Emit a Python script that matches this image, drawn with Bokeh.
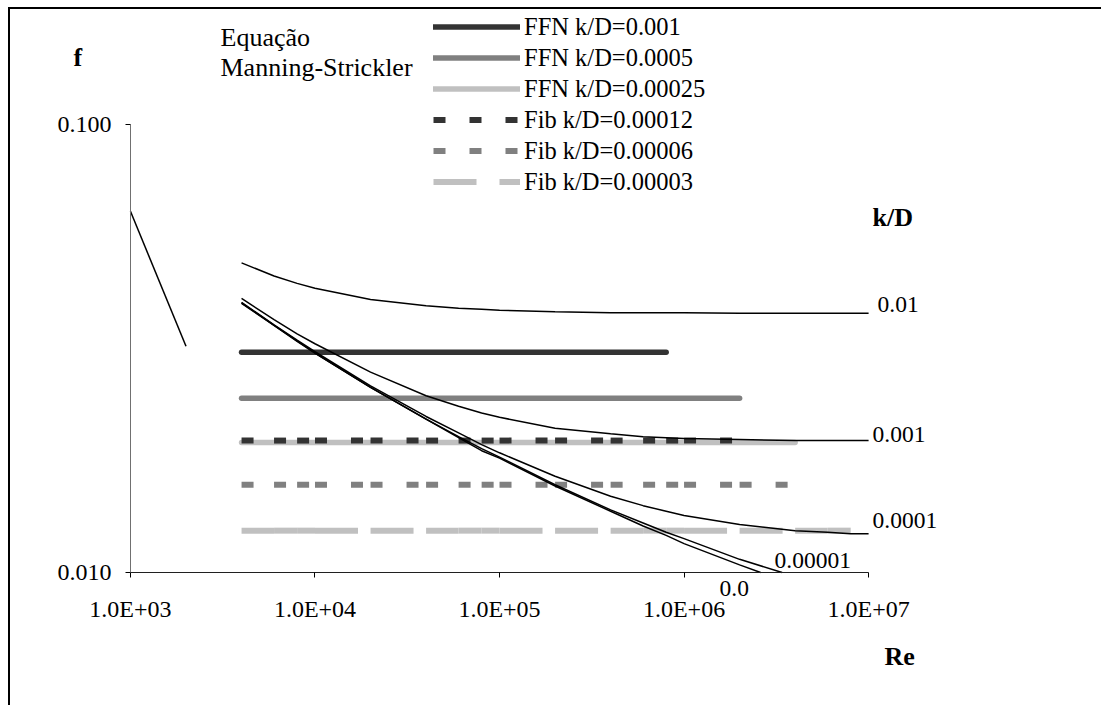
from bokeh.plotting import figure
from bokeh.models import Label, Legend, LegendItem, FixedTicker
from bokeh.embed import file_html
from bokeh.resources import INLINE

# ---------------- data ----------------
re_pts = [4e3, 6e3, 8e3, 1e4, 2e4, 4e4, 6e4, 8e4, 1e5, 2e5, 4e5, 6e5, 8e5,
          1e6, 2e6, 4e6, 6e6, 8e6, 1e7]

f_kd_0_01 = [0.0491, 0.0459, 0.0442, 0.0431, 0.0407, 0.0394, 0.0389, 0.0387, 0.0385,
             0.0382, 0.0380, 0.0380, 0.0380, 0.0380, 0.0379, 0.0379, 0.0379, 0.0379, 0.0379]
f_kd_0_001 = [0.0409, 0.0367, 0.0341, 0.0324, 0.0280, 0.0248, 0.0235, 0.0227, 0.0222,
              0.0210, 0.0204, 0.0201, 0.0200, 0.0199, 0.0198, 0.0197, 0.0197, 0.0197, 0.0197]
f_kd_0_0001 = [0.0401, 0.0357, 0.0330, 0.0311, 0.0261, 0.0223, 0.0205, 0.0193, 0.0185,
               0.0164, 0.0148, 0.0141, 0.0137, 0.0134, 0.0128, 0.0124, 0.0123, 0.0122, 0.0122]
# the two lowest curves leave the chart at f = 0.010
re_kd_0_00001 = [4e3, 6e3, 8e3, 1e4, 2e4, 4e4, 6e4, 8e4, 1e5, 2e5, 4e5, 6e5, 8e5,
                 1e6, 2e6, 3.4e6]
f_kd_0_00001 = [0.0400, 0.0356, 0.0329, 0.0309, 0.0259, 0.0220, 0.0201, 0.0189, 0.0181,
                0.0157, 0.0138, 0.0129, 0.0123, 0.0119, 0.0107, 0.0100]
re_kd_0 = [4e3, 6e3, 8e3, 1e4, 2e4, 4e4, 6e4, 8e4, 1e5, 2e5, 4e5, 6e5, 8e5,
           1e6, 2e6, 2.6e6]
f_kd_0 = [0.0399, 0.0356, 0.0328, 0.0309, 0.0259, 0.0220, 0.0200, 0.0187, 0.0180,
          0.0156, 0.0137, 0.0127, 0.0121, 0.0116, 0.0104, 0.0100]

re_laminar = [1000, 2000]
f_laminar = [0.064, 0.032]

ffn_labels = ["FFN k/D=0.001", "FFN k/D=0.0005", "FFN k/D=0.00025"]
ffn_f = [0.0310, 0.0245, 0.0195]
ffn_re_end = [8e5, 2e6, 4e6]

fib_labels = ["Fib k/D=0.00012", "Fib k/D=0.00006", "Fib k/D=0.00003"]
fib_f = [0.0197, 0.0157, 0.0124]
fib_re_end = [2e6, 4e6, 8e6]

x_ticks = [1e3, 1e4, 1e5, 1e6, 1e7]
x_tick_labels = ["1.0E+03", "1.0E+04", "1.0E+05", "1.0E+06", "1.0E+07"]
y_ticks = [0.01, 0.1]
y_tick_labels = ["0.010", "0.100"]

curve_labels = ["0.01", "0.001", "0.0001", "0.00001", "0.0"]

# ---------------- styling / layout ----------------
FONT = "Liberation Serif"
grays = ["#333333", "#808080", "#c0c0c0"]
fib_dashes = ["12 24", "12 24", "43 23"]

W, H = 1093, 698
OX, OY = 10, 9                 # canvas origin on the page (margin + border)
AX_L, AX_T, AX_R, AX_B = 130, 124, 868, 572   # axis extents in page pixels
DEC_X, DEC_Y = 184.6, 448.0    # pixels per decade

x_start = 10 ** (3 - (AX_L - OX) / DEC_X)
x_end = 10 ** (7 + (OX + W - AX_R) / DEC_X)
y_start = 10 ** (-2 - (OY + H - AX_B) / DEC_Y)
y_end = 10 ** (-1 + (AX_T - OY) / DEC_Y)

p = figure(width=W, height=H, x_axis_type="log", y_axis_type="log",
           x_range=(x_start, x_end), y_range=(y_start, y_end),
           output_backend="svg", toolbar_location=None,
           min_border_left=0, min_border_top=0, min_border_right=0, min_border_bottom=0)
p.styles = {"margin-left": "8px", "margin-top": "7px",
            "border-top": "2px solid #000000", "border-left": "2px solid #000000"}
p.background_fill_color = "white"
p.border_fill_color = "white"
p.outline_line_color = None
p.xgrid.visible = False
p.ygrid.visible = False

p.xaxis.ticker = FixedTicker(ticks=x_ticks, minor_ticks=[])
p.xaxis.major_label_overrides = dict(zip(x_ticks, x_tick_labels))
p.xaxis.bounds = (x_ticks[0], x_ticks[-1])
p.xaxis.fixed_location = y_ticks[0]
p.yaxis.ticker = FixedTicker(ticks=y_ticks, minor_ticks=[])
p.yaxis.major_label_overrides = dict(zip(y_ticks, y_tick_labels))
p.yaxis.bounds = (y_ticks[0], y_ticks[-1])
p.yaxis.fixed_location = x_ticks[0]
for ax in (p.xaxis, p.yaxis):
    ax.major_label_text_font = FONT
    ax.major_label_text_font_size = "24px"
    ax.major_label_text_color = "black"
    ax.major_tick_out = 5
    ax.major_tick_in = 0
    ax.minor_tick_out = 0
    ax.minor_tick_in = 0
    ax.major_tick_line_color = "black"
p.xaxis.axis_line_color = "#202020"
p.yaxis.axis_line_color = "#707070"
p.xaxis.major_label_standoff = 18
p.yaxis.major_label_standoff = 14

# FFN solid lines
legend_items = []
for lab, fv, rend, col in zip(ffn_labels, ffn_f, ffn_re_end, grays):
    r = p.line([re_pts[0], rend], [fv, fv], line_color=col, line_width=5.5, line_cap="round")
    legend_items.append(LegendItem(label=lab, renderers=[r]))

# Fib dashed lines (dash pattern restarts at every data point, as in the original)
for lab, fv, rend, col, dash in zip(fib_labels, fib_f, fib_re_end, grays, fib_dashes):
    x0 = [a for a, b in zip(re_pts[:-1], re_pts[1:]) if b <= rend]
    x1 = [b for a, b in zip(re_pts[:-1], re_pts[1:]) if b <= rend]
    r = p.segment(x0=x0, y0=[fv] * len(x0), x1=x1, y1=[fv] * len(x1),
                  line_color=col, line_width=6, line_dash=dash, line_cap="butt")
    legend_items.append(LegendItem(label=lab, renderers=[r]))

# thin black curves
p.line(re_laminar, f_laminar, line_color="black", line_width=1.5)
for xs, fc in [(re_pts, f_kd_0_01), (re_pts, f_kd_0_001), (re_pts, f_kd_0_0001),
               (re_kd_0_00001, f_kd_0_00001), (re_kd_0, f_kd_0)]:
    p.line(xs, fc, line_color="black", line_width=1.5)

legend = Legend(items=legend_items, location=(433 - OX, OY + H - 197),
                orientation="vertical", padding=0, margin=0, spacing=0,
                glyph_width=87, glyph_height=31, label_height=31, label_standoff=4,
                label_text_font=FONT, label_text_font_size="24.5px",
                label_text_color="black",
                border_line_color=None, background_fill_alpha=0)
p.add_layout(legend, "center")

def put(text, X, Y, size=23.5, bold=False):
    # (X, Y): left end and baseline of the text in page pixels
    p.add_layout(Label(x=X - OX, y=OY + H - Y + 0.38 * size,
                       x_units="screen", y_units="screen",
                       text=text, text_font=FONT, text_font_size=f"{size}px",
                       text_font_style="bold" if bold else "normal",
                       text_color="black", text_align="left",
                       text_baseline="alphabetic"))

curve_label_pos = [(877, 313), (872, 443), (872, 529), (774, 569), (719, 597)]
for t, (X, Y) in zip(curve_labels, curve_label_pos):
    put(t, X, Y)

put("f", 73, 67, size=26, bold=True)
put("k/D", 872, 227, size=26, bold=True)
put("Re", 884, 666, size=26, bold=True)
put("Equação", 220, 47, size=26)
put("Manning-Strickler", 220, 77, size=26)

open("out.html", "w").write(file_html(p, INLINE, title="Moody"))
